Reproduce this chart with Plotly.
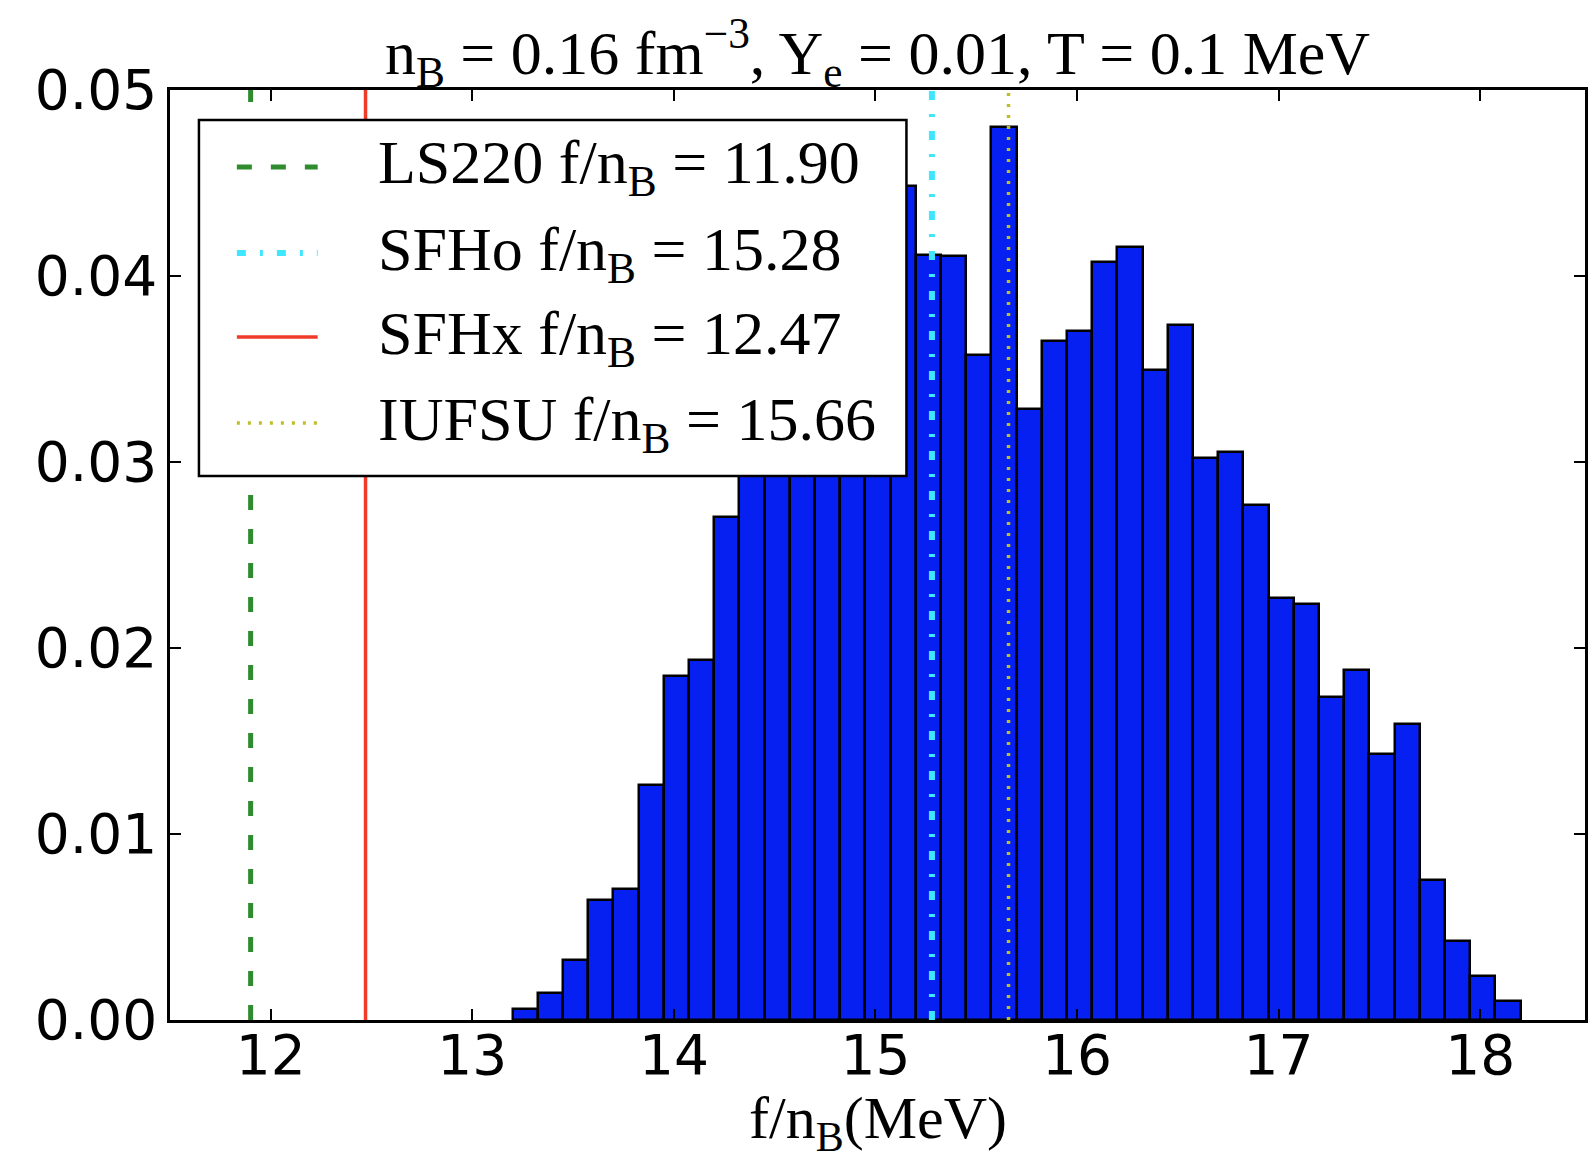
import plotly.graph_objects as go

# ---- data ----
bin_edges = [13.2, 13.325, 13.45, 13.575, 13.7, 13.825, 13.95, 14.075, 14.2, 14.325,
             14.45, 14.575, 14.7, 14.825, 14.95, 15.075, 15.2, 15.325, 15.45, 15.575,
             15.7, 15.825, 15.95, 16.075, 16.2, 16.325, 16.45, 16.575, 16.7, 16.825,
             16.95, 17.075, 17.2, 17.325, 17.45, 17.575, 17.7, 17.825, 17.95, 18.075, 18.2]
density = [0.0006, 0.00147, 0.00323, 0.00646, 0.00706, 0.01262, 0.01848, 0.01933, 0.02707, 0.0335,
           0.0352, 0.0378, 0.0396, 0.0389, 0.0418, 0.04485, 0.04114, 0.04108, 0.03575, 0.04803,
           0.03283, 0.03651, 0.03704, 0.04075, 0.04156, 0.03495, 0.03738, 0.03024, 0.03056, 0.02768,
           0.02268, 0.02234, 0.01735, 0.01884, 0.0143, 0.01591, 0.00753, 0.00425, 0.00237, 0.00104]

eos_names = ["LS220", "SFHo", "SFHx", "IUFSU"]
eos_values = [11.90, 15.28, 12.47, 15.66]
eos_colors = ["#2e8b2e", "#3fe6ff", "#f03a2a", "#bfbf2a"]
eos_dash = ["15px,19px", "9px,14px,3px,14px", "solid", "3px,8px"]
eos_width = [5, 6, 3.5, 3.5]

x_ticks = [12, 13, 14, 15, 16, 17, 18]
y_ticks = [0.00, 0.01, 0.02, 0.03, 0.04, 0.05]

title_text = "n<sub>B</sub> = 0.16 fm<sup>−3</sup>, Y<sub>e</sub> = 0.01, T = 0.1 MeV"
xlabel_text = "f/n<sub>B</sub>(MeV)"

# ---- figure ----
W, H = 1588, 1159
L, R, T, B = 170, 0, 90, 139
pw, ph = W - L - R, H - T - B

centers = [(bin_edges[i] + bin_edges[i + 1]) / 2 for i in range(len(density))]
widths = [bin_edges[i + 1] - bin_edges[i] for i in range(len(density))]

fig = go.Figure()
fig.add_trace(go.Bar(x=centers, y=density, width=widths,
                     marker=dict(color="#0520f0", line=dict(color="black", width=2.5)),
                     showlegend=False))

for name, v, c, d, w in zip(eos_names, eos_values, eos_colors, eos_dash, eos_width):
    fig.add_trace(go.Scatter(x=[v, v], y=[0, 0.05], mode="lines", name=name,
                             line=dict(color=c, dash=d, width=w), showlegend=False))

serif = "Liberation Serif, Times New Roman, serif"

def px_x(p):
    return (p - L) / pw

def px_y(p):
    return (H - B - p) / ph

# manual legend (matplotlib-like box)
shapes = [dict(type="rect", xref="paper", yref="paper",
               x0=px_x(199), x1=px_x(908), y0=px_y(476), y1=px_y(120),
               fillcolor="white", line=dict(color="black", width=2.5), layer="above")]
annotations = []
row_y = [167, 253, 337, 423]
for i, (name, v, c, d, w) in enumerate(zip(eos_names, eos_values, eos_colors, eos_dash, eos_width)):
    yy = px_y(row_y[i])
    shapes.append(dict(type="line", xref="paper", yref="paper",
                       x0=px_x(237), x1=px_x(318), y0=yy, y1=yy,
                       line=dict(color=c, dash=d, width=w), layer="above"))
    annotations.append(dict(xref="paper", yref="paper", x=px_x(376), y=yy,
                            xanchor="left", yanchor="middle", showarrow=False,
                            text=f"{name} f/n<sub>B</sub> = {v:.2f}",
                            font=dict(family=serif, size=62, color="black")))

annotations.append(dict(xref="paper", yref="paper", x=0.5, y=px_y(1122),
                        xanchor="center", yanchor="middle", showarrow=False,
                        text=xlabel_text, font=dict(family=serif, size=60, color="black")))

fig.update_layout(
    width=W, height=H,
    margin=dict(l=L, r=R, t=T, b=B, pad=0),
    paper_bgcolor="white", plot_bgcolor="white",
    bargap=0,
    title=dict(text=title_text, x=0.5, xref="paper", xanchor="center",
               y=1 - 52 / H, yref="container", yanchor="middle",
               font=dict(family=serif, size=62, color="black")),
    shapes=shapes, annotations=annotations,
    font=dict(family="DejaVu Sans", size=55, color="black"),
)
fig.update_xaxes(range=[11.5, 18.52], tickvals=x_ticks, ticktext=[str(t) for t in x_ticks],
                 showgrid=False, zeroline=False, showline=True, linecolor="black", linewidth=2.5,
                 mirror="ticks", ticks="inside", ticklen=11, tickwidth=1.5, tickcolor="black",
                 tickfont=dict(family="DejaVu Sans", size=55), ticklabelstandoff=-15)
fig.update_yaxes(range=[0, 0.05], tickvals=y_ticks, tickformat=".2f",
                 showgrid=False, zeroline=False, showline=True, linecolor="black", linewidth=2.5,
                 mirror="ticks", ticks="inside", ticklen=11, tickwidth=1.5, tickcolor="black",
                 tickfont=dict(family="DejaVu Sans", size=55), ticklabelstandoff=-1)

fig.write_html("out.html", config={"displayModeBar": False},
               post_script="document.body.style.margin='0px';")
